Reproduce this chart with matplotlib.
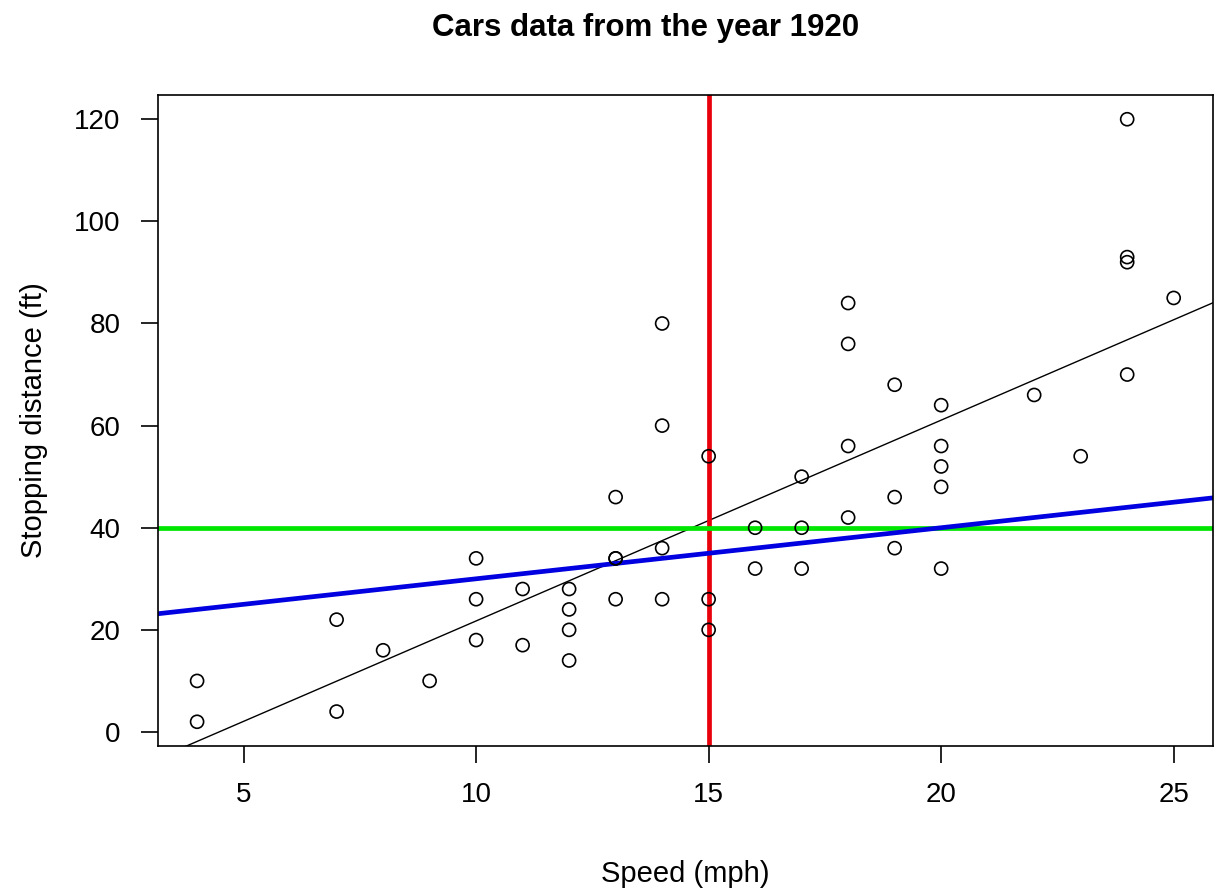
import numpy as np
import matplotlib
matplotlib.use("Agg")
import matplotlib.pyplot as plt

plt.rcParams["font.family"] = ["Liberation Sans", "DejaVu Sans"]

# cars dataset: speed (mph) and stopping distance (ft)
speed = [4, 4, 7, 7, 8, 9, 10, 10, 10, 11, 11, 12, 12, 12, 12, 13, 13, 13, 13, 14,
         14, 14, 14, 15, 15, 15, 16, 16, 17, 17, 17, 18, 18, 18, 18, 19, 19, 19, 20, 20,
         20, 20, 20, 22, 23, 24, 24, 24, 24, 25]
dist = [2, 10, 4, 22, 16, 10, 18, 26, 34, 17, 28, 14, 20, 24, 28, 26, 34, 34, 46, 26,
        36, 60, 80, 20, 26, 54, 32, 40, 32, 40, 50, 42, 56, 76, 84, 36, 46, 68, 32, 48,
        52, 56, 64, 66, 54, 70, 92, 93, 120, 85]

x_ticks = [5, 10, 15, 20, 25]
y_ticks = [0, 20, 40, 60, 80, 100, 120]

# reference lines
v_speed = 15
h_dist = 40
ab_intercept, ab_slope = 20, 1

x = np.array(speed, dtype=float)
y = np.array(dist, dtype=float)
slope, intercept = np.polyfit(x, y, 1)

fig = plt.figure(figsize=(12.25, 8.89), dpi=100)
ax = fig.add_axes([0.129, 0.161, 0.861, 0.732])

# R-style 4% padding around the data range
xpad = (x.max() - x.min()) * 0.04
ypad = (y.max() - y.min()) * 0.04
xlim = (x.min() - xpad, x.max() + xpad)
ylim = (y.min() - ypad, y.max() + ypad)

ax.scatter(x, y, s=88, facecolors="none", edgecolors="black", linewidths=1.2, zorder=3)

xs = np.array(xlim)
ax.plot(xs, intercept + slope * xs, color="black", lw=1)
ax.axvline(v_speed, color="#e8000b", lw=3.4)
ax.axhline(h_dist, color="#00e600", lw=3.4)
ax.plot(xs, ab_intercept + ab_slope * xs, color="#0000e0", lw=3.4)

ax.set_xlim(xlim)
ax.set_ylim(ylim)
ax.set_xticks(x_ticks)
ax.set_yticks(y_ticks)
ax.tick_params(labelsize=20, length=12, width=1.2)
ax.tick_params(axis="x", pad=14)
ax.tick_params(axis="y", pad=15)
for s in ax.spines.values():
    s.set_linewidth(1.2)

ax.set_xlabel("Speed (mph)", fontsize=21)
ax.xaxis.set_label_coords(0.5, -0.175)
ax.set_ylabel("Stopping distance (ft)", fontsize=21)
ax.yaxis.set_label_coords(-0.104, 0.5)
fig.text(0.527, 0.969, "Cars data from the year 1920", fontsize=22.5,
         fontweight="bold", ha="center", va="center")

fig.savefig("out.png", dpi=100)
